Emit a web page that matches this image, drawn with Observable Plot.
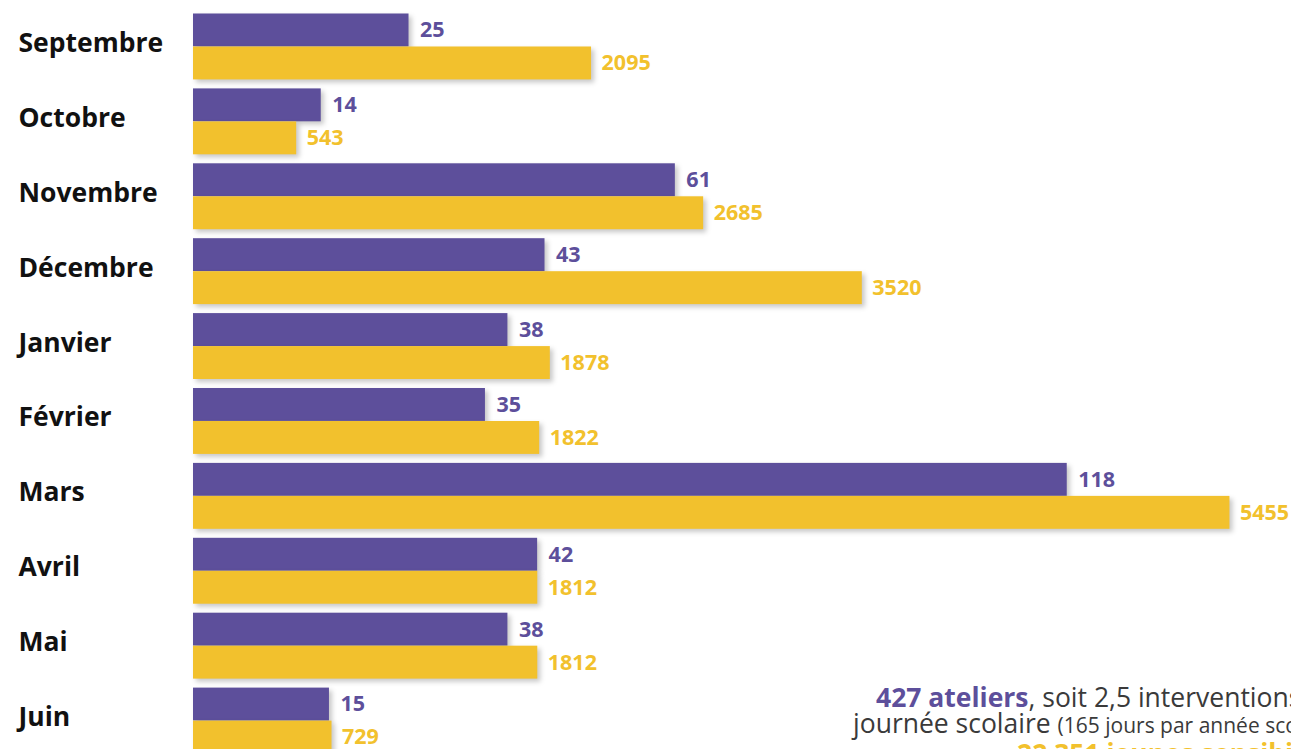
<!DOCTYPE html>
<html>
<head>
<meta charset="utf-8">
<script src="https://cdn.jsdelivr.net/npm/d3@7"></script>
<script src="https://cdn.jsdelivr.net/npm/@observablehq/plot@0.6"></script>
<style>
  html, body { margin: 0; padding: 0; overflow: hidden; background: #fff; }
  #wrap { position: relative; width: 1291px; height: 749px; overflow: hidden; font-family: "Open Sans", sans-serif; }
  #wrap svg { position: absolute; left: 0; top: 0; }
  g[aria-label="bar"] rect { filter: drop-shadow(3px 3px 2.5px rgba(0,0,0,0.22)); }
  .note { position: absolute; white-space: nowrap; font-family: "Open Sans", sans-serif; color: #3a3a3a; font-size: 26.5px; line-height: 26px; }
  .note b.p { color: #5d4f9b; }
  .note b.y { color: #f2c12d; }
  .note small { font-size: 21px; }
</style>
</head>
<body>
<div id="wrap"></div>
<script>
const months = ["Septembre","Octobre","Novembre","Décembre","Janvier","Février","Mars","Avril","Mai","Juin"];
const ateliers = [25, 14, 61, 43, 38, 35, 118, 42, 38, 15];
const jeunes = [2095, 543, 2685, 3520, 1878, 1822, 5455, 1812, 1812, 729];

const purple = "#5d4f9b";
const yellow = "#f2c12d";

// The original infographic draws the "ateliers" bars on their own (non-linear) length scale;
// map them into the shared x scale with a power mapping.
const atelierLen = v => 62.2 * Math.pow(v, 0.902);

const rows = months.map((m, i) => ({month: m, a: ateliers[i], j: jeunes[i]}));

const chart = Plot.plot({
  width: 1291,
  height: 758,
  marginLeft: 193,
  marginRight: 15,
  marginTop: 9,
  marginBottom: 0,
  style: {fontFamily: "'Open Sans', sans-serif", background: "transparent", overflow: "visible"},
  x: {domain: [0, 5700], axis: null},
  y: {domain: months, paddingInner: 0.12, paddingOuter: 0.06, round: false, axis: null},
  marks: [
    Plot.barX(rows, {y: "month", x1: 0, x2: d => atelierLen(d.a), fill: purple, insetBottom: 33}),
    Plot.barX(rows, {y: "month", x1: 0, x2: "j", fill: yellow, insetTop: 33}),
    Plot.text(rows, {y: "month", x: d => atelierLen(d.a), text: d => String(d.a), dx: 11, dy: -16.5, textAnchor: "start", fill: purple, fontSize: 21.5, fontWeight: "bold"}),
    Plot.text(rows, {y: "month", x: "j", text: d => String(d.j), dx: 10, dy: 16.5, textAnchor: "start", fill: yellow, fontSize: 21.5, fontWeight: "bold"}),
    Plot.text(rows, {y: "month", x: 0, text: "month", dx: -175, dy: -3.5, textAnchor: "start", fill: "#111", fontSize: 26.5, fontWeight: "bold"})
  ]
});
const wrap = document.getElementById("wrap");
wrap.appendChild(chart);

const notes = [
  {top: 684, left: 876, html: '<b class="p">427 ateliers</b>, soit 2,5 interventions par'},
  {top: 710, left: 853, html: 'journée scolaire <small>(165 jours par année scolaire)</small>'},
  {top: 740, left: 1017, html: '<b class="y">22 351 jeunes sensibilisés</b>'}
];
for (const n of notes) {
  const d = document.createElement("div");
  d.className = "note";
  d.style.top = n.top + "px";
  d.style.left = n.left + "px";
  d.innerHTML = n.html;
  wrap.appendChild(d);
}
</script>
</body>
</html>
